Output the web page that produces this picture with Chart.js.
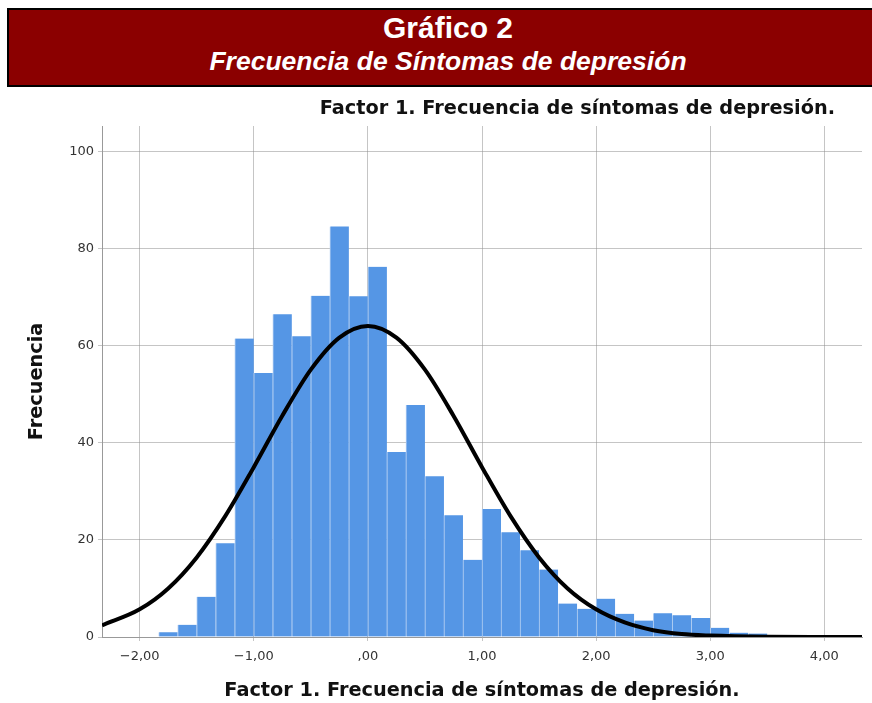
<!DOCTYPE html>
<html>
<head>
<meta charset="utf-8">
<script src="https://cdn.jsdelivr.net/npm/chart.js@4"></script>
<style>
  html, body { margin: 0; width: 872px; height: 703px; overflow: hidden; background: #fff; }
  body { position: relative; }
  #wrap { position: absolute; left: 0; top: 0; width: 872px; height: 703px; }
  #header {
    position: absolute; left: 7px; top: 8px; width: 878px; height: 75px;
    background: #8b0000; border: 2px solid #000; border-right: none; color: #fff; text-align: center;
    font-family: "Liberation Sans", Arial, sans-serif; font-weight: bold;
  }
  #header .t1 { font-size: 30px; line-height: 30px; margin-top: 3px; }
  #header .t2 { font-size: 26.5px; line-height: 30px; margin-top: 3px; font-style: italic; }
  #chartTitle {
    position: absolute; right: 37px; top: 97px;
    font-family: "DejaVu Sans", sans-serif; font-weight: bold; font-size: 19.3px; color: #111;
    line-height: 22px; white-space: nowrap;
  }
</style>
</head>
<body>
<div id="wrap"><canvas id="histChart" width="872" height="703"></canvas></div>
<div id="header">
  <div class="t1">Gráfico 2</div>
  <div class="t2">Frecuencia de Síntomas de depresión</div>
</div>
<div id="chartTitle">Factor 1. Frecuencia de síntomas de depresión.</div>
<script>
// histogram bins (centre of each bin, bin width 1/6)
const binCenters = [-1.75, -1.5833, -1.4167, -1.25, -1.0833, -0.9167, -0.75, -0.5833,
  -0.4167, -0.25, -0.0833, 0.0833, 0.25, 0.4167, 0.5833, 0.75, 0.9167, 1.0833,
  1.25, 1.4167, 1.5833, 1.75, 1.9167, 2.0833, 2.25, 2.4167, 2.5833, 2.75, 2.9167,
  3.0833, 3.25, 3.4167];
const frequencies = [1, 2.5, 8.3, 19.3, 61.5, 54.4, 66.5, 62, 70.3, 84.6, 70.2, 76.3,
  38.1, 47.8, 33.1, 25.1, 15.9, 26.4, 21.6, 17.9, 13.9, 6.9, 5.8, 7.9, 4.8, 3.4,
  4.9, 4.5, 3.9, 1.9, 0.9, 0.7];

// normal curve
const curveX = [-2.33, -2.0, -1.75, -1.5, -1.25, -1.0, -0.75, -0.5, -0.25, 0, 0.25, 0.5,
  0.75, 1.0, 1.25, 1.5, 1.75, 2.0, 2.25, 2.5, 2.75, 3.0, 3.5, 4.0, 4.33];
const curveY = [2.4, 5.7, 10.0, 16.4, 24.9, 35.0, 45.6, 55.1, 61.7, 64.1, 61.7, 55.1,
  45.6, 35.0, 24.9, 16.4, 10.0, 5.7, 3.0, 1.4, 0.6, 0.3, 0.05, 0, 0];

const xTicks = [-2, -1, 0, 1, 2, 3, 4];
const yTicks = [0, 20, 40, 60, 80, 100];

function fmtTick(v) {
    if (v === 0) return ',00';
    const s = Math.abs(v).toFixed(2).replace('.', ',');
    return (v < 0 ? '\u2212' : '') + s;
}

const tickFont = { family: 'DejaVu Sans', size: 13 };
const titleFont = { family: 'DejaVu Sans', size: 19.3, weight: 'bold' };

const ctx = document.getElementById('histChart').getContext('2d');
const histChart = new Chart(ctx, {
    type: 'bar',
    data: {
        datasets: [{
                type: 'line',
                data: curveX.map((x, i) => ({ x: x, y: curveY[i] })),
                borderColor: '#000',
                borderWidth: 4,
                pointRadius: 0,
                fill: false,
                cubicInterpolationMode: 'monotone',
                order: 0
            },
            {
                type: 'bar',
                data: binCenters.map((x, i) => ({ x: x, y: frequencies[i] })),
                backgroundColor: '#5596e5',
                borderColor: '#b9d2f3',
                borderWidth: { left: 1, right: 0, top: 0, bottom: 0 },
                borderSkipped: false,
                barPercentage: 1,
                categoryPercentage: 1,
                order: 1
            }
        ]
    },
    options: {
        responsive: false,
        animation: false,
        layout: { padding: { left: 0, right: 10, top: 126, bottom: 0 } },
        scales: {
            x: {
                type: 'linear',
                min: -2.33,
                max: 4.33,
                offset: false,
                z: 1,
                afterBuildTicks: s => { s.ticks = xTicks.map(v => ({ value: v })); },
                afterFit: s => { s.height = 66; },
                grid: { offset: false, color: 'rgba(140,140,140,0.5)', tickLength: 4 },
                border: { color: '#999', width: 1 },
                ticks: {
                    autoSkip: false, maxRotation: 0, color: '#333', font: tickFont,
                    padding: 8, callback: v => fmtTick(v)
                },
                title: {
                    display: true,
                    text: 'Factor 1. Frecuencia de síntomas de depresión.',
                    color: '#111', font: titleFont, padding: { top: 0, bottom: 0 }
                }
            },
            y: {
                min: 0,
                max: 105.3,
                z: 1,
                afterBuildTicks: s => { s.ticks = yTicks.map(v => ({ value: v })); },
                afterFit: s => { s.width = 102; },
                grid: { color: 'rgba(140,140,140,0.5)', tickLength: 4 },
                border: { color: '#999', width: 1 },
                ticks: { color: '#333', font: tickFont, padding: 4 },
                title: {
                    display: true,
                    text: 'Frecuencia',
                    color: '#111', font: titleFont, padding: { top: 25, bottom: 0 }
                }
            }
        },
        plugins: {
            legend: { display: false },
            tooltip: { enabled: false },
            title: { display: false }
        }
    }
});
</script>
</body>
</html>
